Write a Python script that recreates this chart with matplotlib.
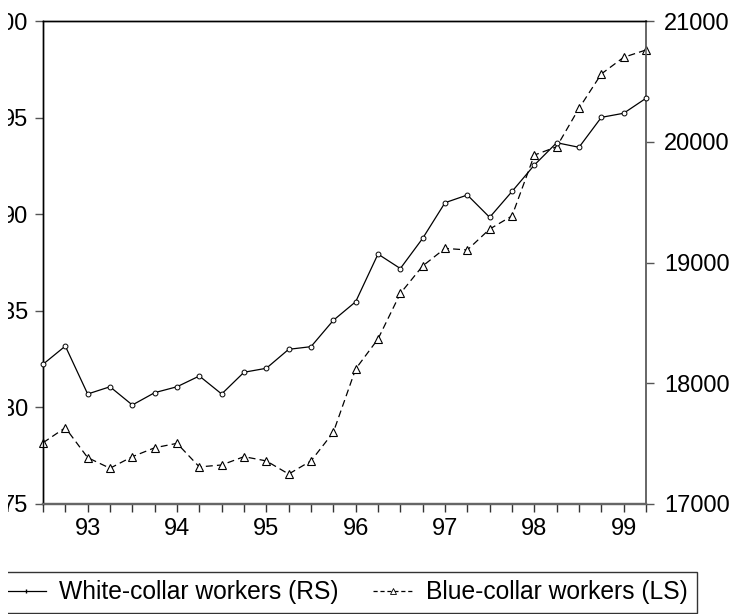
import matplotlib
matplotlib.use("Agg")
import matplotlib.pyplot as plt
from matplotlib.lines import Line2D
from matplotlib.patches import Rectangle
from matplotlib.ticker import MultipleLocator, FixedLocator

plt.rcParams['font.family'] = ['Liberation Sans', 'DejaVu Sans']
plt.rcParams['lines.scale_dashes'] = False

# Quarterly data, 1992Q3 .. 1999Q2
quarters = [1992.5 + 0.25 * i for i in range(28)]

white_collar_rs = [18157, 18308, 17911, 17971, 17820, 17922, 17971, 18060,
                   17911, 18091, 18124, 18281, 18303, 18521, 18675, 19070,
                   18950, 19200, 19495, 19559, 19374, 19588, 19807, 19992,
                   19954, 20202, 20236, 20360]

blue_collar_ls = [78.17, 78.95, 77.40, 76.85, 77.45, 77.91, 78.14, 76.92,
                  77.02, 77.45, 77.23, 76.55, 77.23, 78.71, 81.99, 83.54,
                  85.90, 87.32, 88.23, 88.15, 89.23, 89.91, 93.06, 93.49,
                  95.48, 97.26, 98.12, 98.50]

year_ticks = [1993, 1994, 1995, 1996, 1997, 1998, 1999]
year_labels = ["93", "94", "95", "96", "97", "98", "99"]
left_ticks = [75, 80, 85, 90, 95, 100]
right_ticks = [17000, 18000, 19000, 20000, 21000]

W, H = 735, 614
fig = plt.figure(figsize=(W / 100, H / 100), dpi=100)
L, R, T, B = 43, 646, 21, 504
ax = fig.add_axes([L / W, 1 - B / H, (R - L) / W, (B - T) / H])
ax2 = ax.twinx()

FS = 17
LFS = 17.75
dash = (5, 3)

ax.plot(quarters, blue_collar_ls, color='black', lw=0.9, linestyle=(0, dash),
        marker='^', markersize=6, markerfacecolor='white',
        markeredgecolor='black', markeredgewidth=0.8, clip_on=False, zorder=3)
ax2.plot(quarters, white_collar_rs, color='black', lw=0.9, linestyle='-',
         marker='o', markersize=3.5, markerfacecolor='white',
         markeredgecolor='black', markeredgewidth=0.7, clip_on=False, zorder=3)

ax.set_xlim(1992.5, 1999.25)
ax.set_ylim(75, 100)
ax2.set_ylim(17000, 21000)

ax.xaxis.set_major_locator(FixedLocator(year_ticks))
ax.set_xticklabels(year_labels)
ax.xaxis.set_minor_locator(MultipleLocator(0.25))
ax.yaxis.set_major_locator(FixedLocator(left_ticks))
ax.set_yticklabels([str(v) for v in left_ticks])
ax2.yaxis.set_major_locator(FixedLocator(right_ticks))
ax2.set_yticklabels([str(v) for v in right_ticks])

TL = 5.8
ax.tick_params(axis='x', which='both', direction='out', length=TL, width=1,
               labelsize=FS, pad=4, top=False)
ax.tick_params(axis='y', which='both', direction='out', length=TL, width=1,
               labelsize=FS, pad=5, right=False)
ax2.tick_params(axis='y', direction='out', length=TL, width=1, labelsize=FS,
                pad=7, colors='black')
ax2.tick_params(axis='y', color='#555555')
ax.tick_params(axis='y', color='#555555')
ax.tick_params(axis='x', which='both', color='#333333')

for a in (ax, ax2):
    a.spines['top'].set_color('black')
    a.spines['left'].set_color('black')
    a.spines['right'].set_color('#666666')
    a.spines['bottom'].set_color('#666666')
    a.spines['bottom'].set_linewidth(1.6)
    a.spines['right'].set_linewidth(1.2)
    a.spines['left'].set_linewidth(1.0)
    a.spines['top'].set_linewidth(1.0)

h1 = Line2D([], [], color='black', lw=0.9, marker='|', markersize=3)
h2 = Line2D([], [], color='black', lw=0.9, linestyle=(0, (3, 2)), marker='^',
            markersize=4, markerfacecolor='white', markeredgewidth=0.6)
leg = fig.legend([h1, h2], ["White-collar workers (RS)", "Blue-collar workers (LS)"],
                 loc='upper right', bbox_to_anchor=(697 / W, 1 - 571.5 / H),
                 bbox_transform=fig.transFigure, ncol=2, fontsize=LFS,
                 frameon=True, fancybox=False, shadow=False,
                 handlelength=1.6, handletextpad=0.55, columnspacing=1.4,
                 borderpad=0.36, borderaxespad=0)
leg.get_frame().set_edgecolor('black')
leg.get_frame().set_linewidth(1.0)

# blank strip along the left edge, as in the reference image
fig.add_artist(Rectangle((0, 0), 8 / W, 1, transform=fig.transFigure,
                         facecolor='white', edgecolor='none', zorder=100))

fig.savefig("out.png", dpi=100)
